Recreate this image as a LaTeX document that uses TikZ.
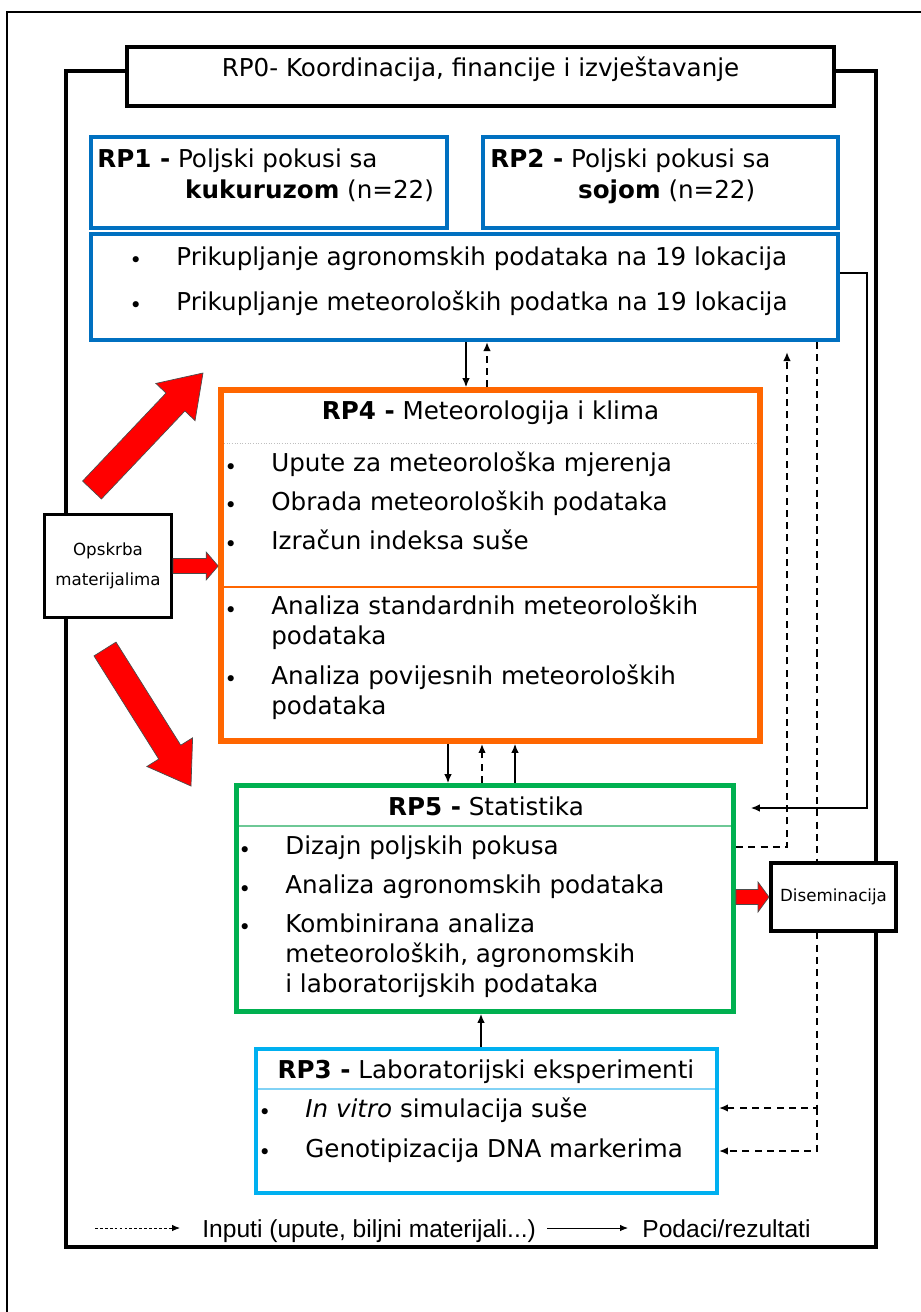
\documentclass[tikz,border=0pt]{standalone}
\usepackage{fontspec}
\setmainfont{DejaVu Sans}[ItalicFont={DejaVu Sans Oblique}, BoldFont={DejaVu Sans Bold}]
\newfontfamily\legendfont{Liberation Sans}
\usetikzlibrary{positioning, arrows.meta, calc}
\definecolor{rpblue}{RGB}{0,112,192}
\definecolor{rporange}{RGB}{255,102,0}
\definecolor{rpgreen}{RGB}{0,176,80}
\definecolor{rpcyan}{RGB}{0,176,240}
\definecolor{sepgreen}{RGB}{110,200,150}
\definecolor{sepcyan}{RGB}{130,210,245}
\definecolor{arrowred}{RGB}{255,0,0}
\newcommand{\bul}{\llap{\raisebox{-1.5pt}{\fontsize{12}{12}\selectfont\textbullet}\hspace{19.5pt}}}
\newcommand{\blockarrow}[5]{%
  \coordinate (neck) at ($(#2)!#5!(#1)$);
  \filldraw[redarrow] ($(#1)!#3!90:(#2)$) -- ($(neck)!#3!90:(#2)$) -- ($(neck)!#4!90:(#2)$) -- (#2)
    -- ($(neck)!#4!-90:(#2)$) -- ($(neck)!#3!-90:(#2)$) -- ($(#1)!#3!-90:(#2)$) -- cycle;}

\begin{document}
\begin{tikzpicture}[x=0.02cm, y=-0.02cm,
  box/.style={draw, fill=white, inner sep=0pt},
  bluebox/.style={box, draw=rpblue, line width=2.3pt},
  txt/.style={inner sep=0pt, anchor=base west, align=left, font=\fontsize{14}{17}\selectfont},
  ttl/.style={txt, anchor=base},
  small/.style={font=\fontsize{9.5}{17}\selectfont, align=center},
  legend/.style={inner sep=0pt, anchor=base west, font=\legendfont\fontsize{14}{17}\selectfont},
  data/.style={-{Latex[length=1.8mm, width=1.5mm]}, line width=0.7pt},
  input/.style={data, line width=1pt, dash pattern=on 4pt off 3pt},
  redarrow/.style={fill=arrowred, draw=black!70, line width=0.4pt}]
\useasboundingbox (0,0) rectangle (920,1312);
\draw[line width=1pt] (7,12) rectangle (930,1330);
\draw[line width=2.4pt] (66,71) rectangle (876,1247);

\node[box, line width=2.3pt, minimum width=14.14cm, minimum height=1.18cm, text height=8pt, text depth=8pt, font=\fontsize{14}{17}\selectfont] (rp0) at (480.5,76.5) {RP0- Koordinacija, financije i izvještavanje};

\node[bluebox, minimum width=7.12cm, minimum height=1.82cm] (rp1) at (269,182.5) {};
\node[bluebox, minimum width=7.10cm, minimum height=1.82cm] (rp2) at (660.5,182.5) {};
\node[bluebox, minimum width=14.94cm, minimum height=2.12cm] (coll) at (464.5,287) {};
\node[txt, font=\fontsize{14}{17.5}\selectfont] (rp1txt) at (97,198) {\textbf{RP1 -} Poljski pokusi sa\\\hspace*{50pt}\textbf{kukuruzom} (n=22)};
\node[txt, font=\fontsize{14}{17.5}\selectfont] (rp2txt) at (490,198) {\textbf{RP2 -} Poljski pokusi sa\\\hspace*{50pt}\textbf{sojom} (n=22)};
\node[txt] (colltxt) at (176,310) {\bul Prikupljanje agronomskih podataka na 19 lokacija\\[8.5pt]\bul Prikupljanje meteoroloških podatka na 19 lokacija};

\node[box, draw=rporange, line width=3.3pt, minimum width=10.78cm, minimum height=7.02cm] (rp4) at (490.5,565.5) {};
\node[ttl] (rp4title) at (490.5,419) {\textbf{RP4 -} Meteorologija i klima};
\draw[black!25, densely dotted, line width=0.5pt] (224,443) -- (757,443);
\node[txt] (rp4a) at (271,549) {\bul Upute za meteorološka mjerenja\\[5pt]\bul Obrada meteoroloških podataka\\[5pt]\bul Izračun indeksa suše};
\draw[rporange, line width=1pt] (222,587) -- (759,587);
\node[txt] (rp4b) at (271,714) {\bul Analiza standardnih meteoroloških\\podataka\\[5.5pt]\bul Analiza povijesnih meteoroloških\\podataka};

\node[box, line width=1.8pt, minimum width=2.54cm, minimum height=2.06cm, small] (supply) at (108,566) {Opskrba\\materijalima};

\node[box, draw=rpgreen, line width=2.8pt, minimum width=9.94cm, minimum height=4.52cm] (rp5) at (485,898.5) {};
\node[ttl] (rp5title) at (486,815) {\textbf{RP5 -} Statistika};
\draw[sepgreen, line width=1pt] (239,826) -- (731,826);
\node[txt] (rp5list) at (285,992) {\bul Dizajn poljskih pokusa\\[5pt]\bul Analiza agronomskih podataka\\[5pt]\bul Kombinirana analiza\\meteoroloških, agronomskih\\i laboratorijskih podataka};

\node[box, draw=rpcyan, line width=2.3pt, minimum width=9.22cm, minimum height=2.88cm] (rp3) at (486.5,1121) {};
\node[ttl] (rp3title) at (486,1078) {\textbf{RP3 -} Laboratorijski eksperimenti};
\draw[sepcyan, line width=1pt] (258,1089) -- (715,1089);
\node[txt] (rp3list) at (305,1157) {\bul\textit{In vitro} simulacija suše\\[5.7pt]\bul Genotipizacija DNA markerima};

\draw[data] (466,0 |- coll.south) -- (466,0 |- rp4.north);
\draw[input] (487,0 |- rp4.north) -- (487,0 |- coll.south);
\draw[data] (448,0 |- rp4.south) -- (448,0 |- rp5.north);
\draw[input] (482,0 |- rp5.north) -- (482,0 |- rp4.south);
\draw[data] (515,0 |- rp5.north) -- (515,0 |- rp4.south);
\draw[data] (481,0 |- rp3.north) -- (481,0 |- rp5.south);
\coordinate (rp5in) at ($(rp5.east |- 0,808)+(15,0)$);
\draw[data] (coll.east |- 0,273) -| (867,808) -- (rp5in);
\coordinate (fieldin) at ($(787,0 |- coll.south)+(0,10)$);
\draw[input] (rp5.east |- 0,847) -| (fieldin);
\draw[input] (817,0 |- coll.south) |- (rp3.east |- 0,1108);
\draw[input] (817,1108) |- (rp3.east |- 0,1151);

\node[box, line width=2.3pt, minimum width=2.5cm, minimum height=1.36cm, font=\fontsize{9.5}{11}\selectfont] (dissem) at (833.5,897) {Diseminacija};

\coordinate (up-tail) at (92,490);
\coordinate (up-tip) at (203,373);
\coordinate (down-tail) at (105,649);
\coordinate (down-tip) at (191,786);
\coordinate (supply-in) at (rp4.west |- supply.east);
\coordinate (dissem-out) at (rp5.east |- dissem.west);
\blockarrow{up-tail}{up-tip}{0.26cm}{0.54cm}{0.8cm}
\blockarrow{down-tail}{down-tip}{0.26cm}{0.54cm}{0.8cm}
\blockarrow{supply.east}{supply-in}{0.15cm}{0.28cm}{0.24cm}
\blockarrow{dissem-out}{dissem.west}{0.15cm}{0.3cm}{0.22cm}

\coordinate (in-a) at (95,1228);
\coordinate (in-b) at (180,1228);
\coordinate (out-a) at (547,1228);
\coordinate (out-b) at (628,1228);
\draw[-{Latex[length=1.6mm, width=1.3mm]}, line width=0.5pt, dash pattern=on 1.6pt off 1.2pt] (in-a) -- (in-b);
\draw[-{Latex[length=1.6mm, width=1.3mm]}, line width=0.5pt] (out-a) -- (out-b);
\node[legend] (inputs) at (202,1237) {Inputi (upute, biljni materijali...)};
\node[legend] (outputs) at (642,1237) {Podaci/rezultati};
\end{tikzpicture}
\end{document}
